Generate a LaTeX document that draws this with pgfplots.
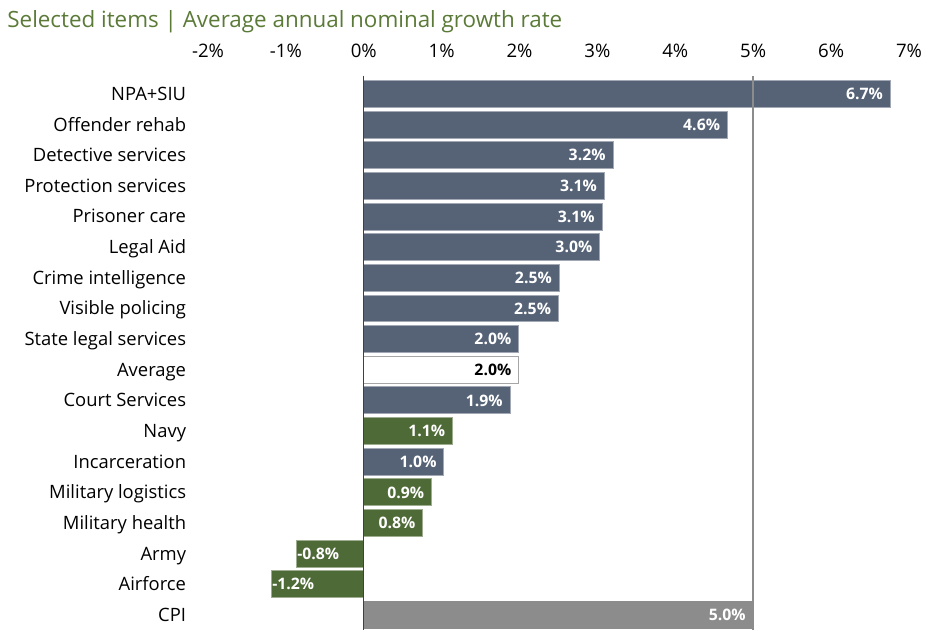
\documentclass[border=0pt]{standalone}
\usepackage{fontspec}
\setmainfont{Open Sans}
\usepackage{pgfplots}
\pgfplotsset{compat=1.18}
\definecolor{slate}{HTML}{566377}
\definecolor{olive}{HTML}{4E6A36}
\definecolor{cpigrey}{HTML}{8C8C8C}
\definecolor{subgreen}{HTML}{5B7A38}
\begin{document}
\begin{tikzpicture}
\useasboundingbox (-104pt,0.65pt) rectangle (360pt,315.15pt);
\begin{axis}[
  scale only axis, width=350.5pt, height=275.85pt,
  xmin=-2, xmax=7, ymin=-0.5, ymax=17.5, y dir=reverse,
  xbar, bar width=0.88, bar shift=0pt,
  axis line style={draw=none}, tick style={draw=none},
  xtick={-2,...,7},
  xticklabels={-2\%,-1\%,0\%,1\%,2\%,3\%,4\%,5\%,6\%,7\%},
  xticklabel pos=right,
  xticklabel style={inner sep=0pt, anchor=south, yshift=10.5pt, font=\fontsize{9.3}{11}\selectfont},
  ytick={0,...,17},
  yticklabels={NPA+SIU, Offender rehab, Detective services, Protection services, Prisoner care, Legal Aid, Crime intelligence, Visible policing, State legal services, Average, Court Services, Navy, Incarceration, Military logistics, Military health, Army, Airforce, CPI},
  yticklabel style={inner sep=0pt, anchor=east, xshift=-6.5pt, text height=1.5ex, text depth=0.3ex, font=\fontsize{9.2}{11}\selectfont},
  clip=false,
  point meta=explicit symbolic,
  nodes near coords={\pgfplotspointmeta\%},
  every node near coord/.append style={font=\bfseries\fontsize{7.9}{9}\selectfont, text=white, anchor=east, xshift=-3.5pt, inner sep=0pt},
]
\addplot[fill=slate, draw=slate!55!white, line width=0.5pt] table[x=x, y=y, meta=l] {
x y l
6.76 0 6.7
4.67 1 4.6
3.20 2 3.2
3.09 3 3.1
3.06 4 3.1
3.03 5 3.0
2.51 6 2.5
2.50 7 2.5
1.99 8 2.0
1.88 10 1.9
1.03 12 1.0
};
\addplot[fill=white, draw=black!35, line width=0.5pt, every node near coord/.append style={text=black}] table[x=x, y=y, meta=l] {
x y l
1.99 9 2.0
};
\addplot[fill=olive, draw=olive!55!white, line width=0.5pt] table[x=x, y=y, meta=l] {
x y l
1.14 11 1.1
0.87 13 0.9
0.76 14 0.8
};
\addplot[fill=olive, draw=olive!55!white, line width=0.5pt, every node near coord/.append style={anchor=west, xshift=3.5pt}] table[x=x, y=y, meta=l] {
x y l
-0.86 15 -0.8
-1.18 16 -1.2
};
\addplot[fill=cpigrey, draw=cpigrey, line width=0.5pt] table[x=x, y=y, meta=l] {
x y l
5.0 17 5.0
};
\draw[cpigrey, line width=1.2pt] (axis cs:5,-0.6) -- (axis cs:5,17.6);
\draw[black!75, line width=0.6pt] (axis cs:0,-0.6) -- (axis cs:0,17.6);
\end{axis}
\node[anchor=base west, inner sep=0pt, text=subgreen, font=\fontsize{11.2}{13}\selectfont] at (-100.5pt,301.5pt) {Selected items | Average annual nominal growth rate};
\end{tikzpicture}
\end{document}
